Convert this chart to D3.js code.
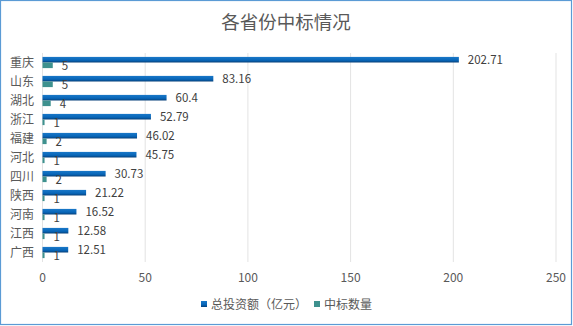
<!DOCTYPE html>
<html><head><meta charset="utf-8">
<script src="https://cdn.jsdelivr.net/npm/d3@7"></script>
<style>
html,body{margin:0;padding:0;background:#fff;}
svg{display:block;font-family:"Noto Sans CJK SC","Noto Sans",sans-serif;}
</style></head>
<body>
<svg id="c" width="573" height="326"></svg>
<script>
const categories = ["重庆","山东","湖北","浙江","福建","河北","四川","陕西","河南","江西","广西"];
const investment = [202.71,83.16,60.4,52.79,46.02,45.75,30.73,21.22,16.52,12.58,12.51];
const bidCount = [5,5,4,1,2,1,2,1,1,1,1];
const xTicks = [0,50,100,150,200,250];
const seriesNames = ["总投资额（亿元）","中标数量"];
const title = "各省份中标情况";

const svg = d3.select("#c");
const W = 573, H = 326;
const blue = "#0a64b4", teal = "#3e918e", txt = "#595959";

const defs = svg.append("defs");
const g1 = defs.append("linearGradient").attr("id","gb").attr("x1",0).attr("y1",0).attr("x2",0).attr("y2",1);
g1.append("stop").attr("offset","0%").attr("stop-color","#1a78c8");
g1.append("stop").attr("offset","60%").attr("stop-color","#0866b8");
g1.append("stop").attr("offset","100%").attr("stop-color","#06407a");

svg.append("rect").attr("x",0.5).attr("y",0.5).attr("width",W-2).attr("height",H-2)
  .attr("fill","#fff").attr("stroke","#5b9bd5").attr("stroke-width",1.2);

svg.append("text").attr("x",286).attr("y",29).attr("text-anchor","middle")
  .attr("font-size",18.5).attr("fill",txt).text(title);

const x = d3.scaleLinear().domain([0,250]).range([42.5,556]);
const y = d3.scaleBand().domain(categories).range([53,262]).paddingInner(0).paddingOuter(0);
const sub = d3.scaleBand().domain(["a","b"]).range([0,y.bandwidth()]).paddingInner(0).paddingOuter(0.696);

// gridlines
svg.append("g").selectAll("line").data(xTicks).join("line")
  .attr("x1",d=>x(d)).attr("x2",d=>x(d)).attr("y1",53).attr("y2",262)
  .attr("stroke","#e3e3e3").attr("stroke-width",1);

// x tick labels
svg.append("g").selectAll("text").data(xTicks).join("text")
  .attr("x",d=>x(d)).attr("y",282).attr("text-anchor","middle")
  .attr("font-size",12).attr("fill",txt).text(d=>d);

// category labels
svg.append("g").selectAll("text").data(categories).join("text")
  .attr("x",34).attr("y",d=>y(d)+y.bandwidth()/2+4).attr("text-anchor","end")
  .attr("font-size",12).attr("fill",txt).text(d=>d);

// bars
svg.append("g").selectAll("rect").data(categories).join("rect")
  .attr("x",x(0)).attr("y",d=>y(d)+sub("a")).attr("height",sub.bandwidth())
  .attr("width",(d,i)=>x(investment[i])-x(0)).attr("fill","url(#gb)");
svg.append("g").selectAll("rect").data(categories).join("rect")
  .attr("x",x(0)).attr("y",d=>y(d)+sub("b")).attr("height",sub.bandwidth())
  .attr("width",(d,i)=>x(bidCount[i])-x(0)).attr("fill",teal);

// labels
svg.append("g").selectAll("text").data(categories).join("text")
  .attr("x",(d,i)=>x(investment[i])+9).attr("y",d=>y(d)+sub("a")+sub.bandwidth()/2+4)
  .attr("font-size",11.5).attr("fill","#404040").text((d,i)=>investment[i]);
svg.append("g").selectAll("text").data(categories).join("text")
  .attr("x",(d,i)=>x(bidCount[i])+9).attr("y",d=>y(d)+sub("b")+sub.bandwidth()/2+5)
  .attr("font-size",11.5).attr("fill","#404040").text((d,i)=>bidCount[i]);

// legend
const leg = svg.append("g");
const legX = [201, 314];
const legColors = ["url(#gb)", teal];
seriesNames.forEach((n,i)=>{
  leg.append("rect").attr("x",legX[i]).attr("y",301).attr("width",6).attr("height",6).attr("fill",legColors[i]);
  leg.append("text").attr("x",legX[i]+10).attr("y",309).attr("font-size",12).attr("fill",txt).text(n);
});
</script>
</body></html>
